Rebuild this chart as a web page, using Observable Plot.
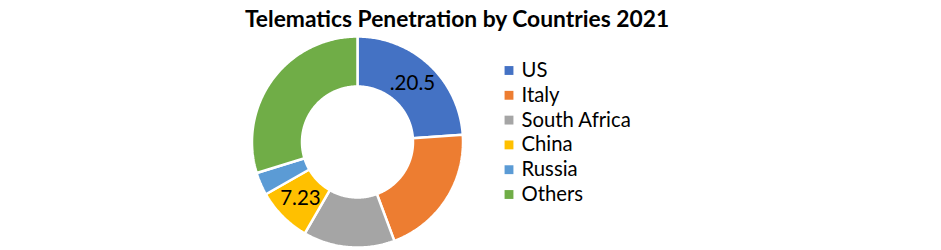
<!DOCTYPE html>
<html><head><meta charset="utf-8">
<script src="https://cdn.jsdelivr.net/npm/d3@7"></script>
<script src="https://cdn.jsdelivr.net/npm/@observablehq/plot@0.6"></script>
<style>body{margin:0;background:#fff} #chart{width:941px;height:250px}</style>
</head><body><div id="chart"></div>
<script>
const countries = ["US", "Italy", "South Africa", "China", "Russia", "Others"];
const values = [20.5, 17.5, 12, 7.23, 3, 25.5];
const sliceLabels = [".20.5", "", "", "7.23", "", ""];
const colors = ["#4472C4", "#ED7D31", "#A5A5A5", "#FFC000", "#5B9BD5", "#70AD47"];
const title = "Telematics Penetration by Countries 2021";

const W = 941, H = 250, cx = 357, cy = 141.5, R = 105.5, inner = 0.526;
const FONT = "Lato, 'Open Sans', sans-serif";

const rows = countries.map((c, i) => ({country: c, value: values[i], label: sliceLabels[i], i}));
const arcs = d3.pie().sort(null).value(d => d.value)(rows);

const pts = [];
const cents = [];
for (const a of arcs) {
  const n = Math.max(8, Math.ceil((a.endAngle - a.startAngle) * 80));
  const ring = [];
  for (let k = 0; k <= n; k++) { const t = a.startAngle + (a.endAngle - a.startAngle) * k / n; ring.push([Math.sin(t), Math.cos(t)]); }
  for (let k = n; k >= 0; k--) { const t = a.startAngle + (a.endAngle - a.startAngle) * k / n; ring.push([inner * Math.sin(t), inner * Math.cos(t)]); }
  ring.push(ring[0]);
  for (const [x, y] of ring) pts.push({country: a.data.country, x, y});
  const m = (a.startAngle + a.endAngle) / 2, rm = (1 + inner) / 2;
  cents.push({label: a.data.label, x: rm * Math.sin(m), y: rm * Math.cos(m)});
}

// legend in pixel terms converted to data units
const px = p => (p - cx) / R, py = p => (cy - p) / R;
const legend = rows.map(d => ({country: d.country, sx: px(508.5), tx: px(521), y: py(70 + d.i * 24.8)}));

const chart = Plot.plot({
  width: W, height: H,
  margin: 0,
  style: {fontFamily: FONT, background: "#fff"},
  x: {domain: [px(0), px(W)], range: [0, W], axis: null},
  y: {domain: [py(H), py(0)], range: [H, 0], axis: null},
  color: {domain: countries, range: colors},
  marks: [
    Plot.line(pts, {x: "x", y: "y", z: "country", fill: "country", stroke: "#fff", strokeWidth: 2.5, strokeLinejoin: "miter"}),
    Plot.text(cents, {x: "x", y: "y", text: "label", fontSize: 20.5, fill: "#000"}),
    Plot.dot(legend, {x: "sx", y: "y", fill: "country", symbol: "square", r: 5, stroke: null}),
    Plot.text(legend, {x: "tx", y: "y", text: "country", textAnchor: "start", fontSize: 20.3, fill: "#000"}),
    Plot.text([title], {frameAnchor: "top", lineAnchor: "middle", dx: -14, dy: 19, text: d => d, fontSize: 22.8, fontWeight: "bold", fill: "#000"})
  ]
});
document.getElementById("chart").append(chart);
</script>
</body></html>
